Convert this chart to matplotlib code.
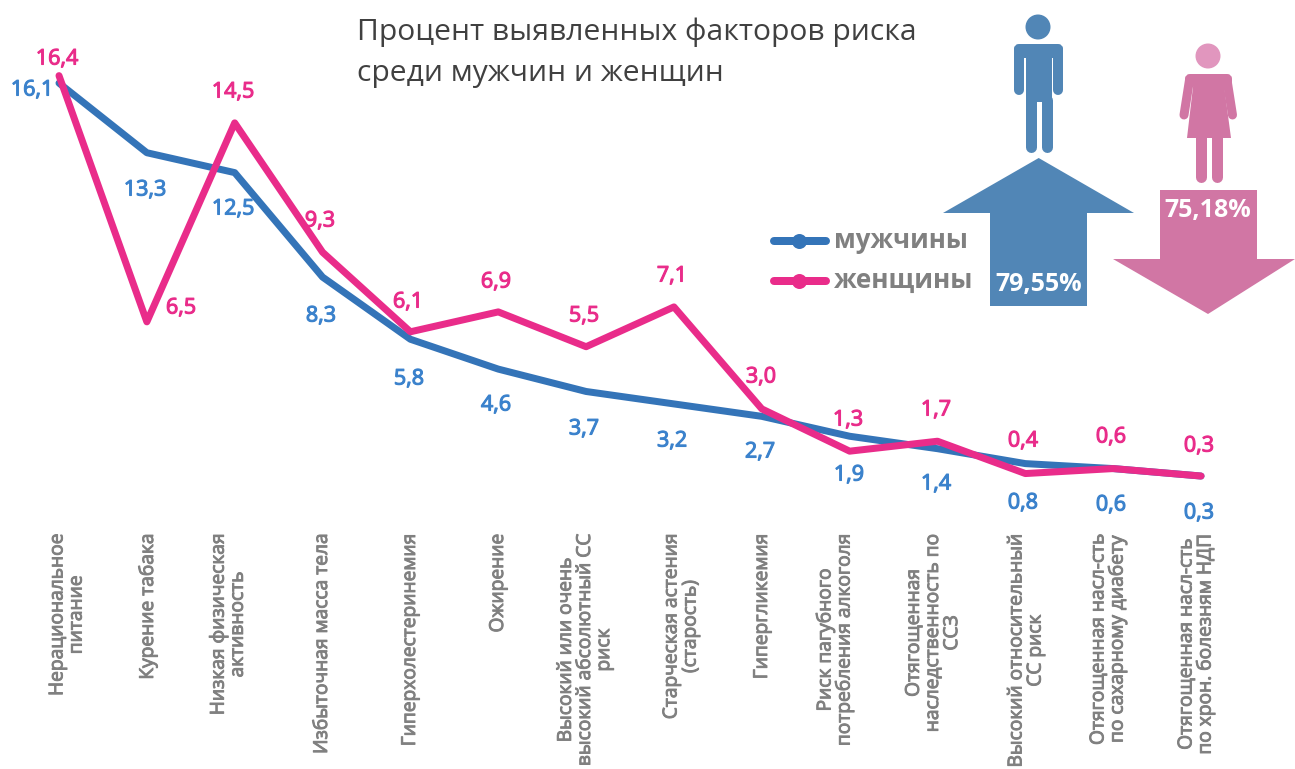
import matplotlib
matplotlib.use("Agg")
import matplotlib.pyplot as plt
import matplotlib.patheffects as pe
from matplotlib.patches import Circle, Polygon, Rectangle, FancyBboxPatch

W, H = 1295, 769

categories = ["Нерациональное\nпитание", "Курение табака", "Низкая физическая\nактивность",
              "Избыточная масса тела", "Гиперхолестеринемия", "Ожирение",
              "Высокий или очень\nвысокий абсолютный СС\nриск", "Старческая астения\n(старость)",
              "Гипергликемия", "Риск пагубного\nпотребления алкоголя",
              "Отягощенная\nнаследственность по\nССЗ", "Высокий относительный\nСС риск",
              "Отягощенная насл-сть\nпо сахарному диабету", "Отягощенная насл-сть\nпо хрон. болезням НДП"]
men = [16.1, 13.3, 12.5, 8.3, 5.8, 4.6, 3.7, 3.2, 2.7, 1.9, 1.4, 0.8, 0.6, 0.3]
women = [16.4, 6.5, 14.5, 9.3, 6.1, 6.9, 5.5, 7.1, 3.0, 1.3, 1.7, 0.4, 0.6, 0.3]
men_total = "79,55%"
women_total = "75,18%"

# label places, in pixels of the picture
men_label_xy = [(32, 90), (145, 190), (233, 209), (321, 316), (409, 379), (496, 405), (584, 429),
                (672, 441), (760, 452), (849, 475), (936, 484), (1023, 503), (1111, 505), (1199, 513)]
women_label_xy = [(57, 59), (181, 308), (233, 92), (320, 221), (408, 302), (496, 282), (584, 316),
                  (672, 276), (761, 377), (848, 420), (936, 410), (1023, 441), (1111, 437), (1199, 446)]
cat_x = [67, 148, 228, 322, 410, 498, 585, 681, 762, 835, 933, 1026, 1108, 1196]

MEN_LINE = "#3474b8"
WOMEN_LINE = "#e92c8a"
MEN_TEXT = "#3b82cc"
MEN_ICON = "#5186b6"
WOMEN_ICON = "#d176a4"
WOMEN_HEAD = "#e196be"
GREY = "#808080"

plt.rcParams['font.family'] = ['Open Sans', 'DejaVu Sans']

fig = plt.figure(figsize=(W / 100, H / 100), dpi=100)

# chart axes fill the figure: index 0 is at x=59px, step 87.85px; y=483.5-24.87*v px
ax = fig.add_axes([0, 0, 1, 1], zorder=2)
ax.set_xlim(-59 / 87.85, (W - 59) / 87.85)
ax.set_ylim((483.5 - H) / 24.87, 483.5 / 24.87)
ax.axis("off")
ax.patch.set_alpha(0)

# pixel axes for all the text and the pictograms
px = fig.add_axes([0, 0, 1, 1], zorder=1)
px.set_xlim(0, W)
px.set_ylim(H, 0)
px.axis("off")


def lw(pixels):
    return pixels * 0.72


def thick(color, width=0.8):
    # no semibold face installed, so thicken the regular one a little
    return [pe.withStroke(linewidth=width, foreground=color)]


xs = list(range(len(men)))
ax.plot(xs, men, color=MEN_LINE, lw=lw(7), solid_joinstyle="round", solid_capstyle="round")
ax.plot(xs, women, color=WOMEN_LINE, lw=lw(7), solid_joinstyle="round", solid_capstyle="round")

for v, (x, y) in zip(men, men_label_xy):
    px.text(x, y, f"{v:.1f}".replace(".", ","), color=MEN_TEXT, fontsize=15.5,
            ha="center", va="center", path_effects=thick(MEN_TEXT))
for v, (x, y) in zip(women, women_label_xy):
    px.text(x, y, f"{v:.1f}".replace(".", ","), color=WOMEN_LINE, fontsize=15.5,
            ha="center", va="center", path_effects=thick(WOMEN_LINE))

for name, x in zip(categories, cat_x):
    px.text(x, 534, name, color=GREY, fontsize=13.8, rotation=90,
            ha="center", va="top", multialignment="center", linespacing=1.08,
            path_effects=thick(GREY, 0.7))

px.text(357, 32, "Процент выявленных факторов риска", color="#404040", fontsize=21.6, ha="left", va="center")
px.text(357, 74, "среди мужчин и женщин", color="#404040", fontsize=21.6, ha="left", va="center")

# legend
px.plot([774, 826], [240.5, 240.5], color=MEN_LINE, lw=lw(8), solid_capstyle="round")
px.plot([799], [240.5], "o", color=MEN_LINE, ms=lw(15), mew=0)
px.plot([774, 826], [280.5, 280.5], color=WOMEN_LINE, lw=lw(8), solid_capstyle="round")
px.plot([799], [280.5], "o", color=WOMEN_LINE, ms=lw(15), mew=0)
px.text(834, 240, "мужчины", color=GREY, fontsize=18.6, fontweight="bold", ha="left", va="center")
px.text(834, 280, "женщины", color=GREY, fontsize=18.8, fontweight="bold", ha="left", va="center")

# man
px.add_patch(Circle((1038, 27), 12.5, color=MEN_ICON, lw=0))
px.add_patch(FancyBboxPatch((1016, 46), 45, 10, boxstyle="round,pad=0,rounding_size=3", color=MEN_ICON, lw=lw(4)))
px.add_patch(Rectangle((1025.5, 46), 26.5, 56, color=MEN_ICON, lw=0))
for x, y0, y1 in [(1019, 50, 90), (1058, 50, 90), (1030.5, 100, 146.5), (1046.5, 100, 146.5)]:
    width = 10 if y0 == 50 else 11
    px.plot([x, x], [y0, y1], color=MEN_ICON, lw=lw(width), solid_capstyle="round")

# woman
px.add_patch(Circle((1208, 56), 12.5, color=WOMEN_HEAD, lw=0))
px.add_patch(FancyBboxPatch((1187, 76), 43, 8, boxstyle="round,pad=0,rounding_size=3", color=WOMEN_ICON, lw=lw(4)))
px.add_patch(Polygon([(1194.5, 74), (1222.5, 74), (1231, 138), (1187, 138)], color=WOMEN_ICON, lw=0))
px.plot([1189.5, 1184], [80, 115], color=WOMEN_ICON, lw=lw(9), solid_capstyle="round")
px.plot([1227, 1232.5], [80, 115], color=WOMEN_ICON, lw=lw(9), solid_capstyle="round")
for x in (1200.5, 1216.5):
    px.plot([x, x], [136, 176.5], color=WOMEN_ICON, lw=lw(11), solid_capstyle="round")

# arrows
px.add_patch(Polygon([(1038.7, 158), (1134, 213), (1087, 213), (1087, 306), (990, 306), (990, 213), (943, 213)],
                     color=MEN_ICON, lw=0))
px.add_patch(Polygon([(1160, 190), (1257, 190), (1257, 259), (1295, 259), (1208, 314), (1113, 259), (1160, 259)],
                     color=WOMEN_ICON, lw=0))
px.text(1039, 284, men_total, color="white", fontsize=18, fontweight="bold", ha="center", va="center")
px.text(1208, 211, women_total, color="white", fontsize=18, fontweight="bold", ha="center", va="center")

fig.savefig("out.png", dpi=100)
